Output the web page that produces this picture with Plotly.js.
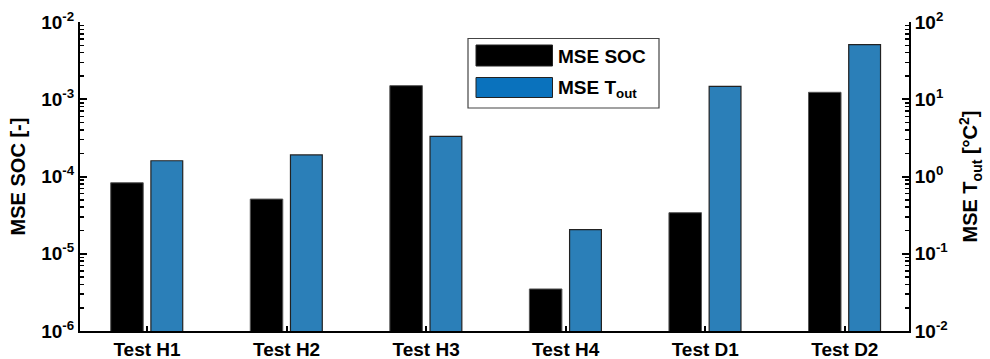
<!DOCTYPE html>
<html>
<head>
<meta charset="utf-8">
<script src="https://cdn.plot.ly/plotly-3.0.1.min.js"></script>
<style>html,body{margin:0;padding:0;background:#fff;}#chart{width:990px;height:359px;}</style>
</head>
<body>
<div id="chart"></div>
<script>
var categories = ['Test H1', 'Test H2', 'Test H3', 'Test H4', 'Test D1', 'Test D2'];
var mseSOC = [8.3e-5, 5.1e-5, 1.5e-3, 3.5e-6, 3.4e-5, 1.23e-3];
var mseTout = [1.6, 1.9, 3.3, 0.205, 14.7, 50.8];
var leftTickVals = [1e-6, 1e-5, 1e-4, 1e-3, 1e-2];
var leftTickText = ['10<sup>-6</sup>', '10<sup>-5</sup>', '10<sup>-4</sup>', '10<sup>-3</sup>', '10<sup>-2</sup>'];
var rightTickVals = [1e-2, 1e-1, 1, 10, 100];
var rightTickText = ['10<sup>-2</sup>', '10<sup>-1</sup>', '10<sup>0</sup>', '10<sup>1</sup>', '10<sup>2</sup>'];

function minorVals(lo, hi) {
  var out = [];
  for (var e = lo; e < hi; e++) for (var m = 2; m <= 9; m++) out.push(m * Math.pow(10, e));
  return out;
}

var W = 990, H = 359, L = 80, R = 909, T = 22, B = 331;
function px(x) { return (x - L) / (R - L); }
function py(y) { return (B - y) / (B - T); }

var FONT = 'Liberation Sans, Arial, sans-serif';
var blueBar = '#2b7fb8';

var traces = [
  {type: 'bar', x: categories, y: mseSOC, yaxis: 'y', offset: -0.26, width: 0.233,
   marker: {color: '#000000', line: {color: '#555555', width: 1}}, showlegend: false, hoverinfo: 'x+y'},
  {type: 'bar', x: categories, y: mseTout, yaxis: 'y2', offset: 0.028, width: 0.228,
   marker: {color: blueBar, line: {color: '#222222', width: 1.2}}, showlegend: false, hoverinfo: 'x+y'}
];

var shapes = [
  {type: 'rect', xref: 'paper', yref: 'paper', x0: px(468), x1: px(659), y0: py(108), y1: py(38.5),
   line: {color: '#444444', width: 1.2}, fillcolor: '#ffffff', layer: 'above'},
  {type: 'rect', xref: 'paper', yref: 'paper', x0: px(476), x1: px(552.5), y0: py(66), y1: py(45),
   line: {color: '#222222', width: 1}, fillcolor: '#000000', layer: 'above'},
  {type: 'rect', xref: 'paper', yref: 'paper', x0: px(476), x1: px(552.5), y0: py(97.5), y1: py(77.5),
   line: {color: '#222222', width: 1}, fillcolor: '#0a72bd', layer: 'above'}
];

var annotations = [
  {xref: 'paper', yref: 'paper', x: px(556), y: py(56), xanchor: 'left', yanchor: 'middle', showarrow: false,
   text: 'MSE SOC', font: {family: FONT, size: 19, weight: 'bold', color: '#000'}},
  {xref: 'paper', yref: 'paper', x: px(556), y: py(89), xanchor: 'left', yanchor: 'middle', showarrow: false,
   text: 'MSE T<sub>out</sub>', font: {family: FONT, size: 19, weight: 'bold', color: '#000'}}
];

var tickFont = {family: FONT, size: 19, weight: 'bold', color: '#000'};

var layout = {
  width: W, height: H,
  margin: {l: L, r: W - R, t: T, b: H - B, pad: 0},
  paper_bgcolor: '#ffffff', plot_bgcolor: '#ffffff',
  bargap: 0, barmode: 'overlay',
  font: {family: FONT, color: '#000'},
  xaxis: {
    type: 'category', range: [-0.48, 5.46], showline: true, linecolor: '#000', linewidth: 2,
    ticks: 'inside', ticklen: 5, tickwidth: 2, tickcolor: '#000', showgrid: false, zeroline: false,
    tickfont: tickFont, fixedrange: true
  },
  yaxis: {
    type: 'log', range: [-6, -2], showline: true, linecolor: '#000', linewidth: 2, mirror: false,
    tickmode: 'array', tickvals: leftTickVals, ticktext: leftTickText,
    ticks: 'inside', ticklen: 7, tickwidth: 2, tickcolor: '#000', showgrid: false, zeroline: false,
    minor: {tickmode: 'array', tickvals: minorVals(-6, -2), ticks: 'inside', ticklen: 4, tickwidth: 1.5, tickcolor: '#000', showgrid: false},
    tickfont: tickFont,
    title: {text: 'MSE SOC [-]', font: {family: FONT, size: 20, weight: 'bold', color: '#000'}, standoff: 10}
  },
  yaxis2: {
    type: 'log', range: [-2, 2], overlaying: 'y', side: 'right', showline: true, linecolor: '#000', linewidth: 2,
    tickmode: 'array', tickvals: rightTickVals, ticktext: rightTickText,
    ticks: 'inside', ticklen: 7, tickwidth: 2, tickcolor: '#000', showgrid: false, zeroline: false,
    minor: {tickmode: 'array', tickvals: minorVals(-2, 2), ticks: 'inside', ticklen: 4, tickwidth: 1.5, tickcolor: '#000', showgrid: false},
    tickfont: tickFont,
    title: {text: 'MSE T<sub>out</sub> [°C<sup>2</sup>]', font: {family: FONT, size: 20, weight: 'bold', color: '#000'}, standoff: 16}
  },
  shapes: shapes,
  annotations: annotations,
  showlegend: false
};

Plotly.newPlot('chart', traces, layout, {staticPlot: true, displayModeBar: false});
</script>
</body>
</html>
